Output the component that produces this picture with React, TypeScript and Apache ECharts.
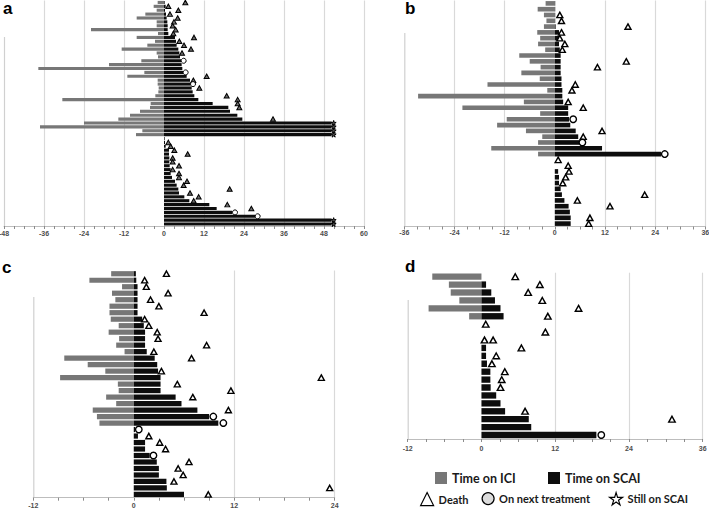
import React, { useEffect, useRef } from "react";
import * as echarts from "echarts";

// ---------- Panel a ----------
const aTicks = [-48, -36, -24, -12, 0, 12, 24, 36, 48, 60];
const aICI = [1.9, 3.1, 2.2, 5.6, 8.2, 2.2, 2.2, 21.9, 1.8, 8.2, 2.7, 5.0, 12.7, 2.2, 1.8, 6.8, 16.5, 37.7, 5.9, 11.0, 1.9, 1.9, 1.6, 1.7, 2.6, 30.5, 4.0, 4.2, 7.2, 10.2, 13.7, 24.0, 37.2, 6.5, 8.4];
const aSCAI = [0.2, 0.5, 0.3, 0.6, 0.8, 1.0, 1.1, 1.1, 1.3, 3.3, 3.6, 3.8, 4.3, 4.6, 4.8, 5.1, 5.3, 5.5, 5.8, 6.8, 7.8, 8.0, 8.3, 8.6, 9.1, 10.3, 14.6, 19.3, 19.8, 22.0, 23.5, 50.3, 50.3, 50.3, 50.3,
  0.2, 0.3, 0.5, 1.5, 1.5, 1.6, 1.6, 1.7, 2.0, 2.0, 2.4, 3.3, 3.8, 4.3, 4.5, 6.1, 7.6, 13.6, 15.8, 20.5, 27.5, 50.3, 50.3];
const aDeath = [[1, 6.4], [2, 1.3], [3, 4.3], [4, 1.8], [5, 4.1], [6, 3.0], [7, 2.6], [8, 3.5], [9, 2.8], [10, 9.0], [11, 4.6], [12, 6.0], [13, 8.1], [14, 5.4], [20, 12.8], [21, 8.8], [23, 10.6], [25, 18.8], [26, 22.1], [27, 22.1], [28, 22.6], [31, 32.7],
  [37, 1.3], [38, 2.0], [39, 3.1], [40, 7.1], [41, 2.6], [42, 2.6], [43, 4.5], [44, 2.6], [45, 4.5], [46, 4.5], [47, 6.9], [48, 5.9], [49, 19.7], [50, 7.8], [51, 10.4], [52, 8.9], [53, 19.0], [54, 26.2]];
const aNext = [[16, 5.9], [19, 6.5], [22, 8.7], [55, 21.3], [56, 28.1]];
const aStill = [[32, 50.9], [33, 50.9], [34, 50.9], [35, 50.9], [57, 50.9], [58, 50.9]];

// ---------- Panel b ----------
const bTicks = [-36, -24, -12, 0, 12, 24, 36];
const bICI = [2.2, 4.1, 2.6, 2.0, 2.6, 4.2, 3.5, 4.0, 2.3, 8.5, 6.0, 3.4, 8.0, 3.6, 16.1, 1.8, 32.7, 7.4, 22.1, 3.5, 11.5, 13.8, 6.9, 3.0, 4.0, 15.2, 4.0];
const bSCAI = [0.1, 0.1, 0.1, 0.1, 0.2, 1.0, 1.0, 1.0, 1.2, 1.4, 1.4, 1.4, 1.4, 1.6, 1.6, 1.8, 1.8, 2.0, 3.2, 3.2, 3.4, 3.7, 5.0, 5.6, 5.8, 11.3, 25.4,
  null, null, 0.8, 1.0, 1.0, 1.4, 1.7, 2.3, 3.3, 3.6, 3.8, 3.8];
const bDeath = [[3, 1.2], [4, 1.6], [5, 17.5], [6, 1.6], [7, 1.2], [8, 2.4], [9, 1.8], [11, 17.1], [12, 10.2], [15, 4.9], [16, 4.1], [18, 3.2], [19, 6.8], [23, 11.3], [24, 6.8],
  [28, 0.8], [29, 3.2], [30, 3.4], [31, 2.6], [32, 1.9], [34, 21.5], [35, 5.4], [36, 13.2], [38, 8.4], [39, 8.1]];
const bNext = [[21, 4.4], [25, 6.6], [27, 26.3]];
const bStill: number[][] = [];

// ---------- Panel c ----------
const cTicks = [-12, 0, 12, 24];
const cICI = [2.7, 5.3, 1.4, 2.6, 2.2, 2.9, 2.9, 2.75, 1.8, 3.0, 1.75, 2.1, 1.1, 8.3, 5.5, 3.4, 8.8, 1.9, 1.8, 3.3, 2.1, 4.9, 4.4, 4.1];
const cSCAI = [0.25, 0.3, 0.45, 0.45, 0.45, 0.45, 0.45, 1.0, 1.2, 1.35, 1.35, 1.35, 1.55, 2.5, 2.8, 2.9, 3.2, 3.2, 3.2, 5.0, 5.7, 7.6, 9.0, 10.1,
  0.15, 0.5, 1.35, 1.35, 1.9, 2.75, 3.0, 3.0, 3.9, 3.95, 6.0];
const cDeath = [[1, 3.9], [2, 1.3], [3, 1.5], [4, 4.1], [5, 2.0], [6, 3.0], [7, 8.4], [8, 1.3], [9, 1.8], [10, 2.8], [11, 2.9], [12, 8.7], [13, 2.4], [14, 6.9], [16, 3.3], [17, 22.4], [18, 5.2], [19, 11.6], [20, 7.05], [22, 11.3],
  [26, 1.8], [27, 3.1], [28, 3.8], [30, 6.6], [31, 5.3], [32, 5.9], [33, 4.8], [34, 23.4], [35, 8.9]];
const cNext = [[23, 9.5], [24, 10.7], [25, 0.6], [29, 2.35]];
const cStill: number[][] = [];

// ---------- Panel d ----------
const dTicks = [-12, 0, 12, 24, 36];
const dICI = [8.0, 5.3, 5.0, 3.6, 8.6, 2.0];
const dSCAI = [0, 0.75, 1.6, 2.2, 3.1, 3.6, null, null, null,
  0.75, 0.75, 0.9, 1.45, 1.45, 1.5, 2.4, 3.1, 3.85, 7.7, 8.1, 18.7];
const dDeath = [[1, 5.5], [2, 9.5], [3, 7.6], [4, 9.9], [5, 15.8], [6, 10.8], [7, 0.7], [8, 10.4], [9, 0.5], [9, 1.9], [10, 6.5], [11, 2.4], [12, 1.7], [13, 3.8], [14, 3.3], [15, 3.1], [18, 7.1], [19, 31.0]];
const dNext = [[21, 19.5]];
const dStill: number[][] = [];

// ---------- Legend ----------
const legendNames = ["Time on ICI", "Time on SCAI", "Death", "On next treatment", "Still on SCAI"];

const STAR = "path://M50,0 L61,35 L98,35 L68,57 L79,91 L50,70 L21,91 L32,57 L2,35 L39,35 Z";
const GRAY = "#777777";
const BLACK = "#0d0d0d";
const FONT = "Liberation Sans";

const panels = [
  { letter: "a", ticks: aTicks, ici: aICI, scai: aSCAI, death: aDeath, next: aNext, still: aStill,
    grid: { left: 4, top: 0.5, width: 360, height: 225.5 }, labelMargin: 4, tri: 5, circ: 5, triFill: "#6e6e6e", triBorder: 1, axisTop: 37,
    title: { left: 3, top: 0 } },
  { letter: "b", ticks: bTicks, ici: bICI, scai: bSCAI, death: bDeath, next: bNext, still: bStill,
    grid: { left: 404.3, top: 0.5, width: 301, height: 226 }, labelMargin: 2, tri: 6, circ: 6.5, triFill: "#ffffff", triBorder: 1.4, axisTop: 33,
    title: { left: 405, top: 0 } },
  { letter: "c", ticks: cTicks, ici: cICI, scai: cSCAI, death: cDeath, next: cNext, still: cStill,
    grid: { left: 33.3, top: 270.5, width: 301.4, height: 227.2 }, labelMargin: 4, tri: 6, circ: 6.5, triFill: "#ffffff", triBorder: 1.4, axisTop: 297,
    title: { left: 2, top: 259 } },
  { letter: "d", ticks: dTicks, ici: dICI, scai: dSCAI, death: dDeath, next: dNext, still: dStill,
    grid: { left: 407.7, top: 272.7, width: 295, height: 166.3 }, labelMargin: 6, tri: 6.5, circ: 6.5, triFill: "#ffffff", triBorder: 1.4, axisTop: 300,
    title: { left: 405, top: 258 } },
];

function buildOption() {
  const grid: any[] = [];
  const xAxis: any[] = [];
  const yAxis: any[] = [];
  const series: any[] = [];
  const title: any[] = [];
  const graphic: any[] = [];

  panels.forEach((p, i) => {
    const cats = p.scai.map((_, k) => `${p.letter}${k + 1}`);
    const min = p.ticks[0];
    const max = p.ticks[p.ticks.length - 1];
    const interval = p.ticks[1] - p.ticks[0];
    grid.push({ ...p.grid, containLabel: false, outerBoundsMode: "none" });
    xAxis.push({
      type: "value", gridIndex: i, min, max, interval,
      axisLine: { show: true, onZero: false, lineStyle: { color: "#bdbdbd", width: 1 } },
      axisTick: { show: true, length: 3, lineStyle: { color: "#8c8c8c" } },
      minorTick: { show: true, splitNumber: 4, length: 3, lineStyle: { color: "#8c8c8c" } },
      axisLabel: { show: true, margin: p.labelMargin, fontSize: 7, fontWeight: "bold", color: "#4d4d4d", fontFamily: FONT, showMinLabel: true, showMaxLabel: true },
      splitLine: {
        show: true, showMinLine: true, showMaxLine: true,
        lineStyle: { width: 1.2, color: p.ticks.map((t) => (t === min || t === 0 ? "rgba(0,0,0,0)" : "#d9d9d9")) },
      },
      minorSplitLine: { show: false },
    });
    yAxis.push({
      type: "category", gridIndex: i, data: cats, inverse: true,
      axisLine: { show: false }, axisTick: { show: false }, axisLabel: { show: false }, splitLine: { show: false },
    });
    const stack = `s${i}`;
    series.push({
      type: "bar", name: legendNames[0], xAxisIndex: i, yAxisIndex: i, stack, barWidth: "80%",
      data: cats.map((_, k) => (p.ici[k] != null ? -p.ici[k] : null)),
      itemStyle: { color: GRAY }, emphasis: { disabled: true },
    });
    series.push({
      type: "bar", name: legendNames[1], xAxisIndex: i, yAxisIndex: i, stack, barWidth: "80%",
      data: p.scai, itemStyle: { color: BLACK }, emphasis: { disabled: true },
    });
    series.push({
      type: "scatter", name: legendNames[2], xAxisIndex: i, yAxisIndex: i, symbol: "triangle", symbolSize: [p.tri, p.tri * 0.9], z: 5,
      data: p.death.map(([r, m]) => [m, r - 1]),
      itemStyle: { color: p.triFill, borderColor: "#000", borderWidth: p.triBorder, opacity: 1 },
    });
    series.push({
      type: "scatter", name: legendNames[3], xAxisIndex: i, yAxisIndex: i, symbol: "circle", symbolSize: p.circ, z: 5,
      data: p.next.map(([r, m]) => [m, r - 1]),
      itemStyle: { color: "#fff", borderColor: "#000", borderWidth: p.triBorder, opacity: 1 },
    });
    series.push({
      type: "scatter", name: legendNames[4], xAxisIndex: i, yAxisIndex: i, symbol: STAR, symbolSize: 5, z: 5,
      data: p.still.map(([r, m]) => [m, r - 1]),
      itemStyle: { color: "#555", borderColor: "#000", borderWidth: 1, opacity: 1 },
    });
    title.push({
      text: p.letter, left: p.title.left, top: p.title.top, padding: 0,
      textStyle: { fontSize: 17, fontWeight: "bold", color: "#000", fontFamily: FONT },
    });
    const x0 = p.grid.left;
    const yb = p.grid.top + p.grid.height;
    graphic.push({
      type: "line", silent: true, z: 0,
      shape: { x1: x0 + 0.5, y1: p.axisTop, x2: x0 + 0.5, y2: yb },
      style: { stroke: "#d0d0d0", lineWidth: 1.2 },
    });
  });

  const lt1 = { fontFamily: "Lato", fontWeight: "bold", fontSize: 12.5, color: "#1a1a1a" };
  const lt2 = { fontFamily: "Lato", fontWeight: "bold", fontSize: 11, color: "#1a1a1a" };
  const oneLegend = (item: any, left: number, top: number, ts: any, extra: any = {}) => ({
    data: [item], left, top, padding: 0, orient: "horizontal", selectedMode: false,
    itemWidth: 12, itemHeight: 12, textStyle: ts, ...extra,
  });
  const openStyle = { color: "#fff", borderColor: "#000", borderWidth: 1.2 };
  return {
    animation: false,
    backgroundColor: "#ffffff",
    title, grid, xAxis, yAxis, series, graphic,
    legend: [
      oneLegend(legendNames[0], 435, 471.5, lt1, { icon: "rect" }),
      oneLegend(legendNames[1], 548, 471.5, lt1, { icon: "rect" }),
      oneLegend({ name: legendNames[2], itemStyle: openStyle }, 420, 492, lt2, { itemWidth: 13, itemHeight: 13 }),
      oneLegend({ name: legendNames[3], itemStyle: { ...openStyle, color: "#dcdcdc" } }, 481.5, 492, lt2),
      oneLegend({ name: legendNames[4], itemStyle: openStyle }, 609, 492, lt2, { itemWidth: 13, itemHeight: 13 }),
    ],
  };
}

export default function App() {
  const ref = useRef<HTMLDivElement>(null);
  useEffect(() => {
    document.body.style.margin = "0";
    if (!ref.current) return;
    const chart = echarts.init(ref.current, null, { renderer: "svg" });
    chart.setOption(buildOption() as any);
    return () => chart.dispose();
  }, []);
  return <div ref={ref} style={{ width: 709, height: 508, position: "absolute", left: 0, top: 0 }} />;
}
